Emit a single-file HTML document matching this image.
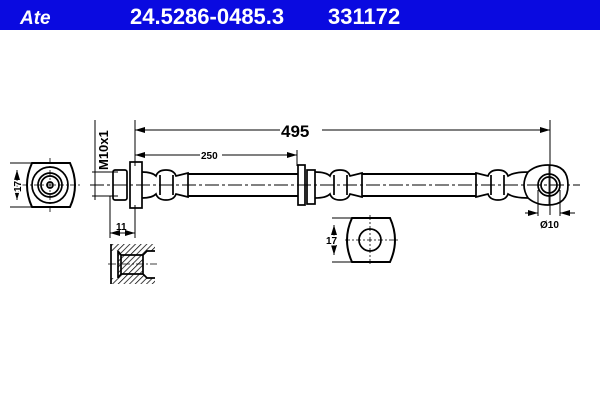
<!DOCTYPE html>
<html><head><meta charset="utf-8"><style>
html,body{margin:0;padding:0;background:#fff;width:600px;height:400px;overflow:hidden}
svg text{font-family:"Liberation Sans",Arial,sans-serif;font-weight:bold}
</style></head><body>
<svg width="600" height="400" viewBox="0 0 600 400" xmlns="http://www.w3.org/2000/svg">
<defs>
<marker id="a" viewBox="0 0 10 6" refX="10" refY="3" markerWidth="10" markerHeight="6" orient="auto-start-reverse" markerUnits="userSpaceOnUse"><path d="M0,0L10,3L0,6z" fill="#000"/></marker>
<pattern id="h" width="4" height="4" patternUnits="userSpaceOnUse" patternTransform="rotate(45)"><line x1="0" y1="0" x2="0" y2="4" stroke="#000" stroke-width="1.5"/></pattern>
</defs>
<rect x="0" y="0" width="600" height="30" fill="#0a0ae0"/>
<text x="20" y="24" fill="#fff" font-size="19" font-style="italic">Ate</text>
<text x="130" y="24" fill="#fff" font-size="22">24.5286-0485.3</text>
<text x="328" y="24" fill="#fff" font-size="22">331172</text>

<g stroke="#000" fill="none" stroke-width="1.7">
<path d="M32,163 H70 Q80,185 70,207 H32 Q22,185 32,163Z" stroke-width="2"/>
<circle cx="50" cy="185" r="18"/><circle cx="50" cy="185" r="12"/><circle cx="50" cy="185" r="9"/><circle cx="50" cy="185" r="3"/>
<line x1="50" y1="158" x2="50" y2="212" stroke-width="0.8" stroke-dasharray="6,2,2,2"/>
<line x1="22" y1="185" x2="80" y2="185" stroke-width="0.8" stroke-dasharray="6,2,2,2"/>
<line x1="10" y1="163" x2="32" y2="163" stroke-width="1"/><line x1="10" y1="207" x2="32" y2="207" stroke-width="1"/>
<line x1="17" y1="170" x2="17" y2="200" stroke-width="1" marker-start="url(#a)" marker-end="url(#a)"/>
<line x1="92" y1="172" x2="118" y2="172" stroke-width="1"/><line x1="92" y1="196" x2="118" y2="196" stroke-width="1"/>
<line x1="95" y1="120" x2="95" y2="200" stroke-width="1"/>
<line x1="90" y1="185" x2="580" y2="185" stroke-width="0.9" stroke-dasharray="14,3,3,3"/>
<rect x="113" y="170" width="14" height="30" rx="2"/>
<rect x="130" y="162" width="12" height="46"/>
<path d="M142,172 Q152,172 156,176 Q158,170 166,170 Q174,170 176,176 L188,173 V197 L176,194 Q174,200 166,200 Q158,200 156,194 Q152,198 142,198"/>
<line x1="160" y1="175" x2="160" y2="195"/><line x1="173" y1="175" x2="173" y2="195"/>
<line x1="188" y1="174" x2="298" y2="174" stroke-width="2"/><line x1="188" y1="196" x2="298" y2="196" stroke-width="2"/>
<rect x="298" y="165" width="7" height="40"/><rect x="307" y="170" width="8" height="34"/>
<path d="M315,172 Q326,172 330,176 Q332,170 340,170 Q348,170 350,176 L362,173 V197 L350,194 Q348,200 340,200 Q332,200 330,194 Q326,198 315,198"/>
<line x1="334" y1="175" x2="334" y2="195"/><line x1="347" y1="175" x2="347" y2="195"/>
<line x1="362" y1="174" x2="476" y2="174" stroke-width="2"/><line x1="362" y1="196" x2="476" y2="196" stroke-width="2"/>
<path d="M476,173 L488,176 Q490,170 498,170 Q506,170 508,176 Q514,172 528,172 Q536,165 548,165 Q568,165 568,185 Q568,205 548,205 Q536,205 528,198 Q514,198 508,194 Q506,200 498,200 Q490,200 488,194 L476,197Z"/>
<line x1="491" y1="175" x2="491" y2="195"/><line x1="504" y1="175" x2="504" y2="195"/>
<path d="M528,172 Q520,185 528,198"/>
<circle cx="549" cy="185" r="11"/><circle cx="549" cy="185" r="8"/>
<line x1="549" y1="165" x2="549" y2="205" stroke-width="0.8"/>
<line x1="135" y1="120" x2="135" y2="166" stroke-width="1"/>
<line x1="550" y1="120" x2="550" y2="215" stroke-width="1"/>
<line x1="135" y1="130" x2="280" y2="130" stroke-width="1" marker-start="url(#a)"/>
<line x1="322" y1="130" x2="550" y2="130" stroke-width="1" marker-end="url(#a)"/>
<line x1="297" y1="150" x2="297" y2="166" stroke-width="1"/>
<line x1="135" y1="155" x2="200" y2="155" stroke-width="1" marker-start="url(#a)"/>
<line x1="222" y1="155" x2="297" y2="155" stroke-width="1" marker-end="url(#a)"/>
<line x1="110" y1="196" x2="110" y2="238" stroke-width="1"/>
<line x1="135" y1="205" x2="135" y2="238" stroke-width="1"/>
<line x1="110" y1="233" x2="135" y2="233" stroke-width="1" marker-start="url(#a)" marker-end="url(#a)"/>
<line x1="538" y1="190" x2="538" y2="216" stroke-width="1"/><line x1="560" y1="190" x2="560" y2="216" stroke-width="1"/>
<line x1="525" y1="213" x2="538" y2="213" stroke-width="1" marker-end="url(#a)"/>
<line x1="575" y1="213" x2="560" y2="213" stroke-width="1" marker-end="url(#a)"/>
<path d="M111,244 H155 V251 H147 L143,255 V274 L147,278 H155 V284 H111 V278 H118 V251 H111Z" fill="url(#h)" stroke="none"/>
<path d="M111,244 V284"/>
<path d="M118,251 L121,255 V274 L118,278 M121,255 H143 M121,274 H143 M143,255 L147,251 H155 M143,255 V274 L147,278 H155 M118,251 V278"/>
<line x1="108" y1="264" x2="157" y2="264" stroke-width="0.8" stroke-dasharray="8,2,2,2"/>
<path d="M352,218 H390 Q400,240 390,262 H352 Q342,240 352,218Z" stroke-width="2"/>
<circle cx="370" cy="240" r="11"/>
<line x1="370" y1="215" x2="370" y2="265" stroke-width="0.8" stroke-dasharray="5,2,2,2"/>
<line x1="345" y1="240" x2="398" y2="240" stroke-width="0.8" stroke-dasharray="5,2,2,2"/>
<line x1="332" y1="218" x2="352" y2="218" stroke-width="1"/><line x1="332" y1="262" x2="352" y2="262" stroke-width="1"/>
<line x1="334" y1="225" x2="334" y2="255" stroke-width="1" marker-start="url(#a)" marker-end="url(#a)"/>
</g>
<text x="281" y="137" font-size="17">495</text>
<text x="201" y="159" font-size="10">250</text>
<text x="116" y="230" font-size="10">11</text>
<text x="540" y="228" font-size="10">Ø10</text>
<text x="326" y="244" font-size="10" fill="#000" style="paint-order:stroke" stroke="#fff" stroke-width="3">17</text>
<text x="0" y="0" font-size="10" transform="translate(21,192) rotate(-90)" style="paint-order:stroke" stroke="#fff" stroke-width="3">17</text>
<text x="0" y="0" font-size="13" transform="translate(108,170) rotate(-90)">M10x1</text>
</svg>
</body></html>
